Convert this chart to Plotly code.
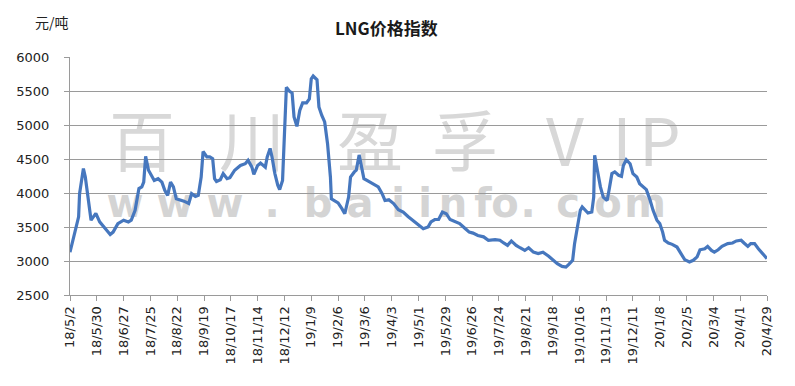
import plotly.graph_objects as go

# ---- data ----
dates = [
    "2018-05-02", "2018-05-07", "2018-05-11", "2018-05-12", "2018-05-16", "2018-05-18", "2018-05-21",
    "2018-05-24", "2018-05-29", "2018-06-02", "2018-06-08", "2018-06-13", "2018-06-16", "2018-06-21",
    "2018-06-27", "2018-07-02", "2018-07-05", "2018-07-09", "2018-07-13", "2018-07-16", "2018-07-18",
    "2018-07-20", "2018-07-23", "2018-07-26", "2018-07-29", "2018-08-02", "2018-08-06", "2018-08-09",
    "2018-08-12", "2018-08-15", "2018-08-18", "2018-08-21", "2018-08-25", "2018-08-29", "2018-09-03",
    "2018-09-06", "2018-09-10", "2018-09-13", "2018-09-16", "2018-09-18", "2018-09-22", "2018-09-25",
    "2018-09-28", "2018-09-30", "2018-10-02", "2018-10-06", "2018-10-09", "2018-10-13", "2018-10-16",
    "2018-10-21", "2018-10-27", "2018-11-01", "2018-11-04", "2018-11-08", "2018-11-10", "2018-11-14",
    "2018-11-17", "2018-11-22", "2018-11-24", "2018-11-27", "2018-11-29", "2018-12-02", "2018-12-05",
    "2018-12-07", "2018-12-10", "2018-12-12", "2018-12-14", "2018-12-17", "2018-12-20", "2018-12-22",
    "2018-12-25", "2018-12-28", "2018-12-31", "2019-01-04", "2019-01-07", "2019-01-09", "2019-01-11",
    "2019-01-15", "2019-01-17", "2019-01-20", "2019-01-23", "2019-01-26", "2019-01-29", "2019-01-30",
    "2019-02-03", "2019-02-06", "2019-02-10", "2019-02-13", "2019-02-17", "2019-02-19", "2019-02-23",
    "2019-02-25", "2019-02-28", "2019-03-03", "2019-03-05", "2019-03-10", "2019-03-15", "2019-03-20",
    "2019-03-24", "2019-03-27", "2019-03-31", "2019-04-05", "2019-04-10", "2019-04-15", "2019-04-20",
    "2019-04-26", "2019-05-01", "2019-05-06", "2019-05-11", "2019-05-14", "2019-05-18", "2019-05-22",
    "2019-05-26", "2019-05-30", "2019-06-03", "2019-06-08", "2019-06-13", "2019-06-19", "2019-06-23",
    "2019-06-27", "2019-07-02", "2019-07-08", "2019-07-13", "2019-07-20", "2019-07-25", "2019-07-29",
    "2019-08-02", "2019-08-06", "2019-08-11", "2019-08-15", "2019-08-20", "2019-08-24", "2019-08-29",
    "2019-09-03", "2019-09-08", "2019-09-14", "2019-09-19", "2019-09-23", "2019-09-28", "2019-10-02",
    "2019-10-05", "2019-10-09", "2019-10-11", "2019-10-14", "2019-10-17", "2019-10-19", "2019-10-22",
    "2019-10-25", "2019-10-29", "2019-10-31", "2019-11-01", "2019-11-04", "2019-11-07", "2019-11-10",
    "2019-11-14", "2019-11-16", "2019-11-19", "2019-11-22", "2019-11-26", "2019-11-29", "2019-12-01",
    "2019-12-04", "2019-12-08", "2019-12-11", "2019-12-15", "2019-12-18", "2019-12-22", "2019-12-25",
    "2019-12-29", "2020-01-01", "2020-01-05", "2020-01-08", "2020-01-11", "2020-01-13", "2020-01-17",
    "2020-01-21", "2020-01-26", "2020-01-30", "2020-02-03", "2020-02-08", "2020-02-12", "2020-02-16",
    "2020-02-19", "2020-02-24", "2020-02-27", "2020-03-02", "2020-03-05", "2020-03-09", "2020-03-13",
    "2020-03-19", "2020-03-24", "2020-03-28", "2020-04-02", "2020-04-05", "2020-04-09", "2020-04-12",
    "2020-04-16", "2020-04-20", "2020-04-24", "2020-04-29",
]
lng_index = [
    3130, 3400, 3650, 3990, 4360, 4235, 3890,
    3600, 3700, 3575, 3475, 3390, 3425, 3550,
    3600, 3575, 3600, 3745, 4065, 4090, 4160,
    4540, 4335, 4260, 4185, 4210, 4160, 4040,
    3965, 4160, 4090, 3915, 3900, 3880, 3845,
    3990, 3950, 3965, 4235, 4610, 4530, 4530,
    4505, 4210, 4170, 4195, 4285, 4210, 4225,
    4335, 4405, 4430, 4480, 4380, 4275, 4405,
    4440, 4380, 4530, 4655, 4530, 4285, 4115,
    4050, 4185, 4870, 5555, 5500, 5470, 5120,
    4980, 5215, 5325, 5325, 5385, 5680, 5720,
    5665, 5265, 5140, 5045, 4725, 4235, 3915,
    3880, 3855, 3770, 3695, 3940, 4235, 4310,
    4335, 4560, 4335, 4210, 4170, 4135, 4090,
    3990, 3890, 3900, 3845, 3755, 3720, 3655,
    3590, 3525, 3475, 3500, 3575, 3610, 3610,
    3720, 3695, 3610, 3575, 3550, 3475, 3425,
    3410, 3375, 3355, 3305, 3315, 3305, 3265,
    3230, 3295, 3230, 3195, 3155, 3195, 3130,
    3110, 3130, 3070, 3010, 2960, 2920, 2910,
    2950, 3010, 3255, 3500, 3745, 3795, 3745,
    3705, 3720, 3940, 4555, 4335, 4090, 3940,
    3890, 4040, 4285, 4310, 4260, 4245, 4405,
    4490, 4430, 4285, 4235, 4137, 4088, 4050,
    3890, 3745, 3600, 3550, 3425, 3305, 3265,
    3245, 3205, 3110, 3020, 2985, 3010, 3060,
    3165, 3180, 3215, 3155, 3130, 3165, 3215,
    3255, 3265, 3295, 3305, 3265, 3215, 3255,
    3255, 3180, 3120, 3035,
]

tick_dates = [
    "2018-05-02", "2018-05-30", "2018-06-27", "2018-07-25", "2018-08-22", "2018-09-19", "2018-10-17",
    "2018-11-14", "2018-12-12", "2019-01-09", "2019-02-06", "2019-03-06", "2019-04-03", "2019-05-01",
    "2019-05-29", "2019-06-26", "2019-07-24", "2019-08-21", "2019-09-18", "2019-10-16", "2019-11-13",
    "2019-12-11", "2020-01-08", "2020-02-05", "2020-03-04", "2020-04-01", "2020-04-29",
]
tick_labels = [
    "18/5/2", "18/5/30", "18/6/27", "18/7/25", "18/8/22", "18/9/19", "18/10/17",
    "18/11/14", "18/12/12", "19/1/9", "19/2/6", "19/3/6", "19/4/3", "19/5/1",
    "19/5/29", "19/6/26", "19/7/24", "19/8/21", "19/9/18", "19/10/16", "19/11/13",
    "19/12/11", "20/1/8", "20/2/5", "20/3/4", "20/4/1", "20/4/29",
]
y_ticks = [2500, 3000, 3500, 4000, 4500, 5000, 5500, 6000]

title_text = "LNG价格指数"
unit_text = "元/吨"
watermark_big = ["百", "川", "盈", "孚", "V", "I", "P"]
watermark_url = list("www.baiinfo.com")

# ---- figure ----
W, H = 795, 386
L, R, T, B = 70, 28, 57, 91
pw, ph = W - L - R, H - T - B

def px2paper(x, y):
    return (x - L) / pw, (H - B - y) / ph

fig = go.Figure()
fig.add_trace(go.Scatter(
    x=dates, y=lng_index, mode="lines",
    line=dict(color="#4677BE", width=3.2),
    hoverinfo="x+y", showlegend=False,
))

shapes = []
big_x = [142, 252, 370, 465, 565, 622, 660]
for ch, cx in zip(watermark_big, big_x):
    px_, py_ = px2paper(cx, 148)
    shapes.append(dict(
        type="rect", xref="paper", yref="paper",
        x0=px_ - 0.01, x1=px_ + 0.01, y0=py_ - 0.01, y1=py_ + 0.01,
        line=dict(width=0), fillcolor="rgba(0,0,0,0)", layer="below",
        label=dict(text=ch, textposition="middle center",
                   font=dict(family="Noto Sans CJK SC", size=66, color="#d8d8d8")),
    ))
url_x = [125, 175, 225, 272, 318, 360, 398, 425, 453, 483, 505, 528, 568, 608, 645]
for ch, cx in zip(watermark_url, url_x):
    px_, py_ = px2paper(cx, 200)
    shapes.append(dict(
        type="rect", xref="paper", yref="paper",
        x0=px_ - 0.01, x1=px_ + 0.01, y0=py_ - 0.01, y1=py_ + 0.01,
        line=dict(width=0), fillcolor="rgba(0,0,0,0)", layer="below",
        label=dict(text="<b>" + ch + "</b>", textposition="middle center",
                   font=dict(family="DejaVu Sans", size=40, color="#d4d4d4")),
    ))

tx, ty = px2paper(386, 27)
ux, uy = px2paper(52, 22)
fig.update_layout(
    width=W, height=H,
    margin=dict(l=L, r=R, t=T, b=B, pad=0),
    paper_bgcolor="white", plot_bgcolor="white",
    shapes=shapes,
    annotations=[
        dict(text="<b>" + title_text + "</b>", xref="paper", yref="paper", x=tx, y=ty,
             showarrow=False, xanchor="center", yanchor="middle",
             font=dict(family="Noto Sans CJK SC", size=17, color="#1a1a1a")),
        dict(text=unit_text, xref="paper", yref="paper", x=ux, y=uy,
             showarrow=False, xanchor="center", yanchor="middle",
             font=dict(family="Noto Sans CJK SC", size=14, color="#222222")),
    ],
    xaxis=dict(
        type="date", range=[tick_dates[0], tick_dates[-1]],
        tickmode="array", tickvals=tick_dates, ticktext=tick_labels,
        tickangle=-90, ticks="outside", ticklen=5, tickcolor="#9a9a9a",
        showline=True, linecolor="#9a9a9a", linewidth=1,
        showgrid=False, zeroline=False,
        tickfont=dict(family="DejaVu Sans", size=13, color="#222222"),
    ),
    yaxis=dict(
        range=[2500, 6000], tickmode="array", tickvals=y_ticks,
        ticks="outside", ticklen=5, tickcolor="#9a9a9a",
        showline=True, linecolor="#9a9a9a", linewidth=1,
        showgrid=True, gridcolor="#9a9a9a", gridwidth=1, zeroline=False,
        ticklabelstandoff=12,
        tickfont=dict(family="DejaVu Sans", size=13, color="#222222"),
    ),
)

fig.write_html(
    "out.html",
    config={"displayModeBar": False},
    post_script="document.body.style.margin='0';document.body.style.overflow='hidden';",
)
